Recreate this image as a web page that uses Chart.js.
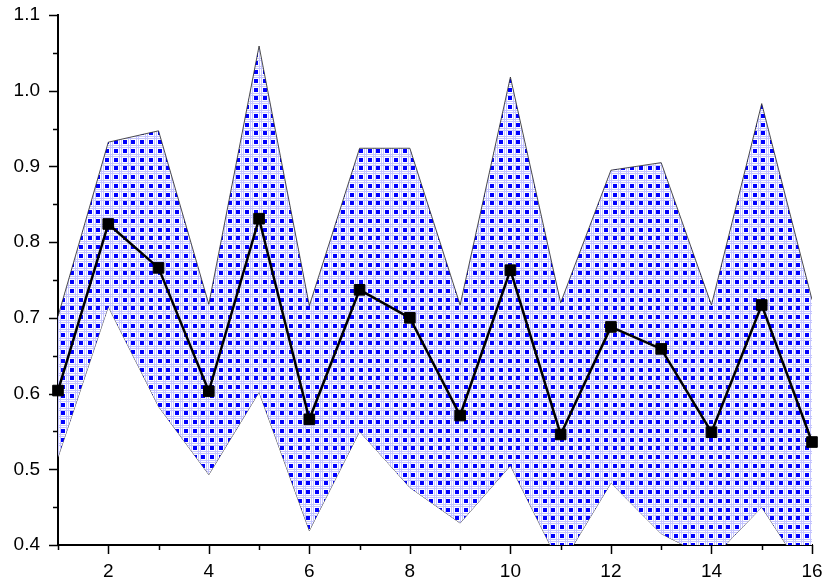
<!DOCTYPE html>
<html>
<head>
<meta charset="utf-8">
<script src="https://cdn.jsdelivr.net/npm/chart.js@4/dist/chart.umd.min.js"></script>
<style>
  body { margin: 0; background: #fff; }
</style>
</head>
<body>
<canvas id="chart" width="830" height="587"></canvas>
<script>
const xValues = [1, 2, 3, 4, 5, 6, 7, 8, 9, 10, 11, 12, 13, 14, 15, 16];
const meanValues = [0.604, 0.824, 0.766, 0.603, 0.831, 0.566, 0.737, 0.700, 0.571, 0.763, 0.546, 0.688, 0.659, 0.549, 0.717, 0.536];
const upperValues = [0.702, 0.932, 0.947, 0.718, 1.059, 0.716, 0.924, 0.924, 0.717, 1.018, 0.720, 0.895, 0.905, 0.717, 0.983, 0.724];
const lowerValues = [0.516, 0.715, 0.583, 0.493, 0.602, 0.419, 0.550, 0.476, 0.429, 0.505, 0.372, 0.482, 0.415, 0.381, 0.450, 0.348];

const xMajorTicks = [2, 4, 6, 8, 10, 12, 14, 16];
const xMinorTicks = [1, 3, 5, 7, 9, 11, 13, 15];
const yMajorTicks = [0.4, 0.5, 0.6, 0.7, 0.8, 0.9, 1.0, 1.1];
const yMinorTicks = [0.45, 0.55, 0.65, 0.75, 0.85, 0.95, 1.05];

const FONT = { family: "'Liberation Sans', Arial, sans-serif", size: 19 };

// checkered fill like the original (blue squares on a light lattice)
function makePattern() {
    const c = document.createElement('canvas');
    c.width = 35;
    c.height = 35;
    const g = c.getContext('2d');
    g.fillStyle = '#ffffff';
    g.fillRect(0, 0, 35, 35);
    const starts = [0, 9, 18, 26];
    g.fillStyle = '#c4c4ff';
    starts.forEach(s => {
        g.fillRect(s + 5, 0, 1, 35);
        g.fillRect(s + 7, 0, 1, 35);
        g.fillRect(0, s + 5, 35, 1);
        g.fillRect(0, s + 7, 35, 1);
    });
    g.fillStyle = '#0000ff';
    starts.forEach(sx => starts.forEach(sy => g.fillRect(sx, sy, 4, 4)));
    return g.createPattern(c, 'repeat');
}

const axisTicks = {
    id: 'axisTicks',
    afterDraw(chart) {
        const { ctx, chartArea } = chart;
        const x = chart.scales.x, y = chart.scales.y;
        ctx.save();
        ctx.strokeStyle = '#000';
        ctx.lineWidth = 1.5;
        ctx.beginPath();
        const yTick = (v, len) => {
            const py = Math.round(y.getPixelForValue(v)) + 0.5;
            ctx.moveTo(chartArea.left, py);
            ctx.lineTo(chartArea.left - len, py);
        };
        const xTick = (v, len) => {
            const px = Math.round(x.getPixelForValue(v)) + 0.5;
            ctx.moveTo(px, chartArea.bottom);
            ctx.lineTo(px, chartArea.bottom + len);
        };
        yMajorTicks.forEach(v => yTick(v, 9));
        yMinorTicks.forEach(v => yTick(v, 5));
        xMajorTicks.forEach(v => xTick(v, 9));
        xMinorTicks.forEach(v => xTick(v, 5));
        ctx.stroke();
        ctx.restore();
    }
};

const toPoints = arr => arr.map((v, i) => ({ x: xValues[i], y: v }));

new Chart(document.getElementById('chart'), {
    type: 'line',
    data: {
        datasets: [
            {
                label: 'mean',
                data: toPoints(meanValues),
                borderColor: '#000',
                borderWidth: 2.5,
                backgroundColor: '#000',
                pointStyle: 'rect',
                pointRadius: 7.5,
                pointBorderWidth: 1,
                pointBackgroundColor: '#000',
                pointBorderColor: '#000',
                fill: false,
                tension: 0,
                clip: false
            },
            {
                label: 'upper',
                data: toPoints(upperValues),
                borderColor: '#222',
                borderWidth: 0.8,
                backgroundColor: makePattern(),
                pointRadius: 0,
                fill: '+1',
                tension: 0
            },
            {
                label: 'lower',
                data: toPoints(lowerValues),
                borderColor: '#222',
                borderWidth: 0.8,
                pointRadius: 0,
                fill: false,
                tension: 0
            }
        ]
    },
    options: {
        responsive: false,
        animation: false,
        layout: { padding: { top: 15, right: 18, left: 0, bottom: 0 } },
        plugins: {
            legend: { display: false },
            tooltip: { enabled: false }
        },
        scales: {
            x: {
                type: 'linear',
                min: 1,
                max: 16,
                afterFit: s => {
                    s.height = 42;
                    s.paddingLeft = 0;
                    s.paddingRight = 0;
                },
                afterBuildTicks: s => { s.ticks = xMajorTicks.map(v => ({ value: v })); },
                grid: { drawOnChartArea: false, drawTicks: false },
                border: { display: true, color: '#000', width: 2 },
                ticks: {
                    color: '#000',
                    font: FONT,
                    padding: 15,
                    maxRotation: 0,
                    autoSkip: false,
                    callback: v => String(v)
                }
            },
            y: {
                min: 0.4,
                max: 1.1,
                afterFit: s => {
                    s.width = 58;
                    s.paddingTop = 0;
                    s.paddingBottom = 0;
                },
                afterBuildTicks: s => { s.ticks = yMajorTicks.map(v => ({ value: v })); },
                grid: { drawOnChartArea: false, drawTicks: false },
                border: { display: true, color: '#000', width: 2 },
                ticks: {
                    color: '#000',
                    font: FONT,
                    padding: 18,
                    autoSkip: false,
                    callback: v => Number(v).toFixed(1)
                }
            }
        }
    },
    plugins: [axisTicks]
});
</script>
</body>
</html>
